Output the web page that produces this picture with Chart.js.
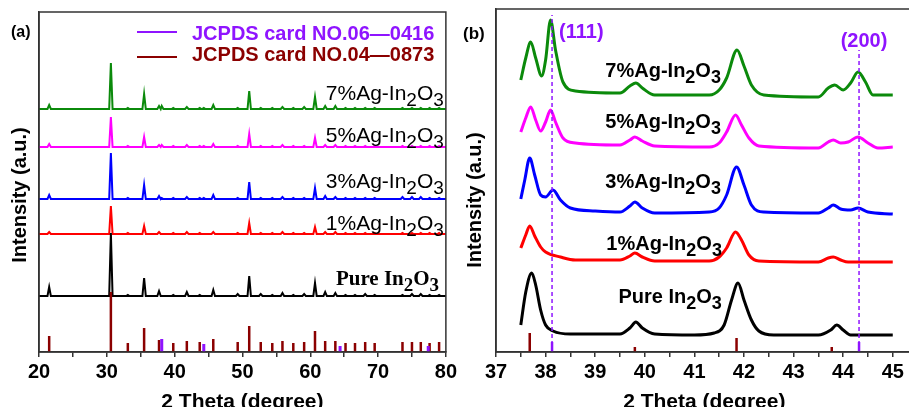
<!DOCTYPE html>
<html>
<head>
<meta charset="utf-8">
<script src="https://cdn.jsdelivr.net/npm/chart.js@4.4.0/dist/chart.umd.min.js"></script>
<style>
  html, body { margin: 0; padding: 0; background: #fff; overflow: hidden; width: 909px; height: 407px; }
  #wa { position: absolute; left: 0; top: 0; }
  #wb { position: absolute; left: 460px; top: 0; }
</style>
</head>
<body>
<div id="wa"><canvas id="xrdA" width="460" height="420"></canvas></div>
<div id="wb"><canvas id="xrdB" width="470" height="420"></canvas></div>
<script>
// ---- panel (a): wide scan 20-80 deg ----
const peakPos = [21.5, 30.6, 33.1, 35.5, 37.7, 38.1, 39.8, 41.8, 43.7, 44.3, 45.7, 49.3, 51.0, 52.7, 54.4,
                 55.9, 57.5, 59.1, 60.7, 62.2, 63.7, 65.2, 66.6, 68.1, 69.5, 73.6, 75.0, 76.3, 77.6, 79.0];
const pureA = [9, 63, 1, 18, 5, 0, 1, 4, 1, 0, 6, 2, 20, 2, 1, 3, 1, 2, 13, 4, 3, 1, 1, 2, 1, 1, 2, 2, 1, 1];
const ag1A  = [2, 28, 1, 8, 2, 0, 1, 2, 1, 0, 2, 1, 11, 1, 1, 2, 1, 1, 7, 2, 2, 1, 1, 1, 1, 1, 1, 1, 1, 1];
const ag3A  = [4, 46, 1, 14, 3, 1, 1, 2, 1, 1, 4, 1, 17, 1, 1, 2, 1, 1, 11, 3, 2, 1, 1, 1, 1, 2, 2, 2, 1, 1];
const ag5A  = [3, 30, 1, 10, 2, 2, 1, 2, 1, 1, 3, 1, 13, 1, 1, 2, 1, 1, 9, 2, 2, 1, 1, 1, 1, 1, 1, 1, 1, 1];
const ag7A  = [4, 46, 1, 15, 3, 3, 1, 2, 1, 1, 4, 1, 18, 1, 1, 2, 1, 2, 12, 3, 3, 1, 1, 1, 1, 1, 1, 1, 1, 1];
const offsetA = [56, 118, 153, 205, 243];   // pure, 1%, 3%, 5%, 7%
const ticksA = [20, 25, 30, 35, 40, 45, 50, 55, 60, 65, 70, 75, 80];

// JCPDS reference lines
const cardIn2O3Pos = [21.5, 30.6, 33.1, 35.5, 37.7, 39.8, 41.8, 43.7, 45.7, 49.3, 51.0, 52.7, 54.4, 55.9,
                      57.5, 59.1, 60.7, 62.2, 63.7, 65.2, 66.6, 68.1, 69.5, 73.6, 75.0, 76.3, 77.6, 79.0];
const cardIn2O3Int = [16, 60, 9, 24, 12, 9, 11, 10, 13, 10, 26, 10, 9, 11, 9, 10, 21, 11, 11, 9, 9, 10, 9,
                      10, 10, 10, 9, 10];
const cardAgPos = [38.1, 44.3, 64.4, 77.4];
const cardAgInt = [13, 8, 6, 6];

// ---- panel (b): zoom 37.5-45 deg ----
const pureB = [[37.5,27],[37.6,60],[37.72,79],[37.8,67],[37.9,42],[38.0,27],[38.15,21],[38.5,18],[39.5,18],
  [39.7,24],[39.82,30],[39.95,24],[40.2,18],[41.0,17],[41.4,19],[41.6,27],[41.75,52],[41.88,69],[42.0,52],
  [42.15,32],[42.3,21],[42.6,17],[43.5,17],[43.75,22],[43.87,27],[44.0,22],[44.15,17],[45.0,17]];
const ag1B = [[37.5,104],[37.6,117],[37.68,126],[37.78,116],[37.9,105],[38.0,100],[38.3,95],[38.6,92],[39.5,92],
  [39.7,96],[39.8,99],[39.95,95],[40.2,91],[41.3,91],[41.5,95],[41.65,104],[41.83,120],[41.95,112],[42.1,97],
  [42.3,91],[43.5,90],[43.7,94],[43.8,95],[43.95,92],[44.1,90],[45.0,90]];
const ag3B = [[37.5,153],[37.58,172],[37.68,194],[37.78,177],[37.9,157],[38.0,155],[38.15,162],[38.3,152],
  [38.5,144],[39.0,141],[39.5,140],[39.7,146],[39.8,150],[39.95,144],[40.2,139],[41.3,140],[41.5,144],
  [41.65,157],[41.85,185],[42.0,167],[42.15,147],[42.4,140],[43.5,139],[43.7,144],[43.8,147],[43.95,143],
  [44.15,142],[44.3,144],[44.5,140],[45.0,138]];
const ag5B = [[37.5,220],[37.6,234],[37.7,245],[37.8,232],[37.9,221],[38.0,230],[38.1,242],[38.2,230],[38.35,214],
  [38.6,209],[39.5,207],[39.7,212],[39.8,215],[39.95,211],[40.2,206],[41.3,205],[41.5,209],[41.65,220],
  [41.83,237],[41.95,227],[42.1,214],[42.3,206],[43.5,204],[43.7,210],[43.8,212],[43.95,209],[44.1,210],
  [44.3,215],[44.5,209],[44.7,204],[45.0,205]];
const ag7B = [[37.5,272],[37.6,294],[37.7,310],[37.8,294],[37.92,276],[38.0,292],[38.1,332],[38.2,302],[38.35,270],
  [38.6,261],[39.5,259],[39.7,266],[39.82,269],[39.95,264],[40.2,257],[41.3,257],[41.5,262],[41.65,274],
  [41.86,302],[42.0,286],[42.15,267],[42.4,257],[43.5,255],[43.7,264],[43.83,267],[44.0,262],[44.15,269],
  [44.3,280],[44.45,270],[44.6,257],[45.0,257]];
const cardIn2O3PosB = [37.68, 39.8, 41.85, 43.77];
const cardIn2O3IntB = [19, 5, 14, 5];
const cardAgPosB = [38.13, 44.32];
const cardAgIntB = [10, 10];
const agLinePos = [38.13, 44.32];
const agLineTop = [337, 302];
const ticksB = [37, 37.5, 38, 38.5, 39, 39.5, 40, 40.5, 41, 41.5, 42, 42.5, 43, 43.5, 44, 44.5, 45];

const FONT = '"Liberation Sans", Arial, sans-serif';
const SERIF = '"Liberation Serif", "Times New Roman", serif';
const PURPLE = '#8f14ff', BROWN = '#8b0000';

function pattern(base, h) {
  const pts = [{x: 20, y: base}];
  peakPos.forEach((p, i) => {
    pts.push({x: p - 0.25, y: base}, {x: p, y: base + h[i]}, {x: p + 0.25, y: base});
  });
  pts.push({x: 80, y: base});
  return pts;
}
function sticks(pos, h) {
  const out = [];
  pos.forEach((p, i) => out.push({x: p, y: 0}, {x: p, y: h[i]}, {x: p, y: null}));
  return out;
}
function xy(arr) { return arr.map(d => ({x: d[0], y: d[1]})); }

// text with "_2" style subscripts
function drawRich(ctx, t, px, py) {
  const size = t.size, subSize = Math.round(size * 0.9);
  const segs = [];
  const s = t.text;
  for (let i = 0; i < s.length; i++) {
    if (s[i] === '_') { segs.push({s: s[i + 1], sub: true}); i++; }
    else if (segs.length && !segs[segs.length - 1].sub) segs[segs.length - 1].s += s[i];
    else segs.push({s: s[i], sub: false});
  }
  const font = sz => (t.weight || 'bold') + ' ' + sz + 'px ' + (t.family || FONT);
  let w = 0;
  segs.forEach(g => { ctx.font = font(g.sub ? subSize : size); g.w = ctx.measureText(g.s).width; w += g.w; });
  ctx.save();
  ctx.translate(px, py);
  if (t.rotate) ctx.rotate(t.rotate);
  let cx = t.align === 'right' ? -w : t.align === 'center' ? -w / 2 : 0;
  ctx.fillStyle = t.color || '#000';
  ctx.textBaseline = t.baseline || 'alphabetic';
  ctx.textAlign = 'left';
  segs.forEach(g => {
    ctx.font = font(g.sub ? subSize : size);
    ctx.fillText(g.s, cx, g.sub ? size * 0.3 : 0);
    cx += g.w;
  });
  ctx.restore();
}

const decor = {
  id: 'decor',
  afterDraw(chart, args, opts) {
    const {ctx, chartArea: a, scales: {x, y}} = chart;
    ctx.save();
    ctx.strokeStyle = '#333';
    ctx.lineWidth = 1.5;
    ctx.strokeRect(a.left, a.top, a.right - a.left, a.bottom - a.top);
    (opts.keys || []).forEach(k => {
      ctx.strokeStyle = k.color;
      ctx.lineWidth = 2;
      ctx.beginPath();
      ctx.moveTo(k.x1, k.y);
      ctx.lineTo(k.x2, k.y);
      ctx.stroke();
    });
    (opts.texts || []).forEach(t => {
      const px = t.data ? x.getPixelForValue(t.x) : t.x;
      const py = t.data ? y.getPixelForValue(t.y) : t.y;
      drawRich(ctx, t, px, py);
    });
    ctx.restore();
  }
};

function lineSet(data, color, width, extra) {
  return Object.assign({data: data, borderColor: color, borderWidth: width, pointRadius: 0,
    fill: false, spanGaps: false, borderCapStyle: 'butt'}, extra || {});
}

function xAxis(min, max, tickList, isMajor) {
  return {
    type: 'linear', min: min, max: max,
    afterFit: s => { s.height = 68; },
    afterBuildTicks: s => { s.ticks = tickList.map(v => ({value: v})); },
    ticks: {autoSkip: false, maxRotation: 0, color: '#000', padding: 3,
            font: {family: FONT, size: 20, weight: 'bold'},
            callback: v => isMajor(v) ? v : ''},
    grid: {drawOnChartArea: false, drawTicks: true, tickLength: 5, color: '#333', lineWidth: 1.5},
    border: {display: true, color: '#333', width: 1.5},
    title: {display: true, text: '2 Theta (degree)', color: '#000', padding: {top: 0, bottom: 5},
            font: {family: FONT, size: 21, weight: 'bold'}}
  };
}
function yAxis(max, w) {
  return {
    min: 0, max: max,
    afterFit: s => { s.width = w; },
    ticks: {display: false},
    grid: {display: false},
    border: {display: true, color: '#333', width: 1.5}
  };
}

window.addEventListener('load', function () {
  new Chart(document.getElementById('xrdA'), {
    type: 'line',
    data: {
      datasets: [
        lineSet(sticks(cardAgPos, cardAgInt), PURPLE, 3),
        lineSet(sticks(cardIn2O3Pos, cardIn2O3Int), BROWN, 2.5),
        lineSet(pattern(offsetA[0], pureA), '#000000', 2),
        lineSet(pattern(offsetA[1], ag1A), '#ff0000', 2),
        lineSet(pattern(offsetA[2], ag3A), '#0000ff', 2),
        lineSet(pattern(offsetA[3], ag5A), '#ff00ff', 2),
        lineSet(pattern(offsetA[4], ag7A), '#0b8a0b', 2)
      ]
    },
    options: {
      responsive: false,
      animation: false,
      layout: {padding: {left: 0, top: 12, right: 12, bottom: 0}},
      elements: {line: {tension: 0}},
      plugins: {
        legend: {display: false},
        tooltip: {enabled: false},
        decor: {
          keys: [{x1: 137, x2: 177, y: 32, color: PURPLE}, {x1: 137, x2: 177, y: 57, color: BROWN}],
          texts: [
            {text: '(a)', x: 11, y: 37, size: 16},
            {text: 'Intensity (a.u.)', x: 20, y: 195, size: 20, rotate: -Math.PI / 2, align: 'center', baseline: 'middle'},
            {text: 'JCPDS card NO.06\u20140416', x: 192, y: 40, size: 20, color: PURPLE},
            {text: 'JCPDS card NO.04\u20140873', x: 192, y: 61, size: 20, color: BROWN},
            {text: '7%Ag-In_2O_3', data: true, x: 79.7, y: 252, size: 21, weight: 'normal', align: 'right'},
            {text: '5%Ag-In_2O_3', data: true, x: 79.7, y: 210, size: 21, weight: 'normal', align: 'right'},
            {text: '3%Ag-In_2O_3', data: true, x: 79.7, y: 164, size: 21, weight: 'normal', align: 'right'},
            {text: '1%Ag-In_2O_3', data: true, x: 79.7, y: 122, size: 21, weight: 'normal', align: 'right'},
            {text: 'Pure In_2O_3', data: true, x: 79.0, y: 67, size: 21, family: SERIF, align: 'right'}
          ]
        }
      },
      scales: {
        x: xAxis(20, 80, ticksA, v => v % 10 === 0),
        y: yAxis(340, 39)
      }
    },
    plugins: [decor]
  });

  const mono = {cubicInterpolationMode: 'monotone'};
  new Chart(document.getElementById('xrdB'), {
    type: 'line',
    data: {
      datasets: [
        lineSet(sticks(agLinePos, agLineTop), PURPLE, 1.5, {borderDash: [4, 3]}),
        lineSet(sticks(cardAgPosB, cardAgIntB), PURPLE, 2.5),
        lineSet(sticks(cardIn2O3PosB, cardIn2O3IntB), BROWN, 2.5),
        lineSet(xy(pureB), '#000000', 3, mono),
        lineSet(xy(ag1B), '#ff0000', 3, mono),
        lineSet(xy(ag3B), '#0000ff', 3, mono),
        lineSet(xy(ag5B), '#ff00ff', 3, mono),
        lineSet(xy(ag7B), '#0b8a0b', 3, mono)
      ]
    },
    options: {
      responsive: false,
      animation: false,
      layout: {padding: {left: 0, top: 9, right: 17.4, bottom: 0}},
      plugins: {
        legend: {display: false},
        tooltip: {enabled: false},
        decor: {
          texts: [
            {text: '(b)', x: 3, y: 39, size: 17},
            {text: 'Intensity (a.u.)', x: 15, y: 200, size: 20, rotate: -Math.PI / 2, align: 'center', baseline: 'middle'},
            {text: '(111)', data: true, x: 38.72, y: 314, size: 20, color: PURPLE, align: 'center'},
            {text: '(200)', data: true, x: 44.42, y: 305, size: 20, color: PURPLE, align: 'center'},
            {text: '7%Ag-In_2O_3', data: true, x: 40.37, y: 275, size: 20, align: 'center'},
            {text: '5%Ag-In_2O_3', data: true, x: 40.37, y: 224, size: 20, align: 'center'},
            {text: '3%Ag-In_2O_3', data: true, x: 40.37, y: 164, size: 20, align: 'center'},
            {text: '1%Ag-In_2O_3', data: true, x: 40.39, y: 102, size: 20, align: 'center'},
            {text: 'Pure In_2O_3', data: true, x: 40.51, y: 49, size: 20, align: 'center'}
          ]
        }
      },
      scales: {
        x: xAxis(37, 45.4, ticksB, v => Number.isInteger(v)),
        y: yAxis(343, 36)
      }
    },
    plugins: [decor]
  });
});
</script>
</body>
</html>
